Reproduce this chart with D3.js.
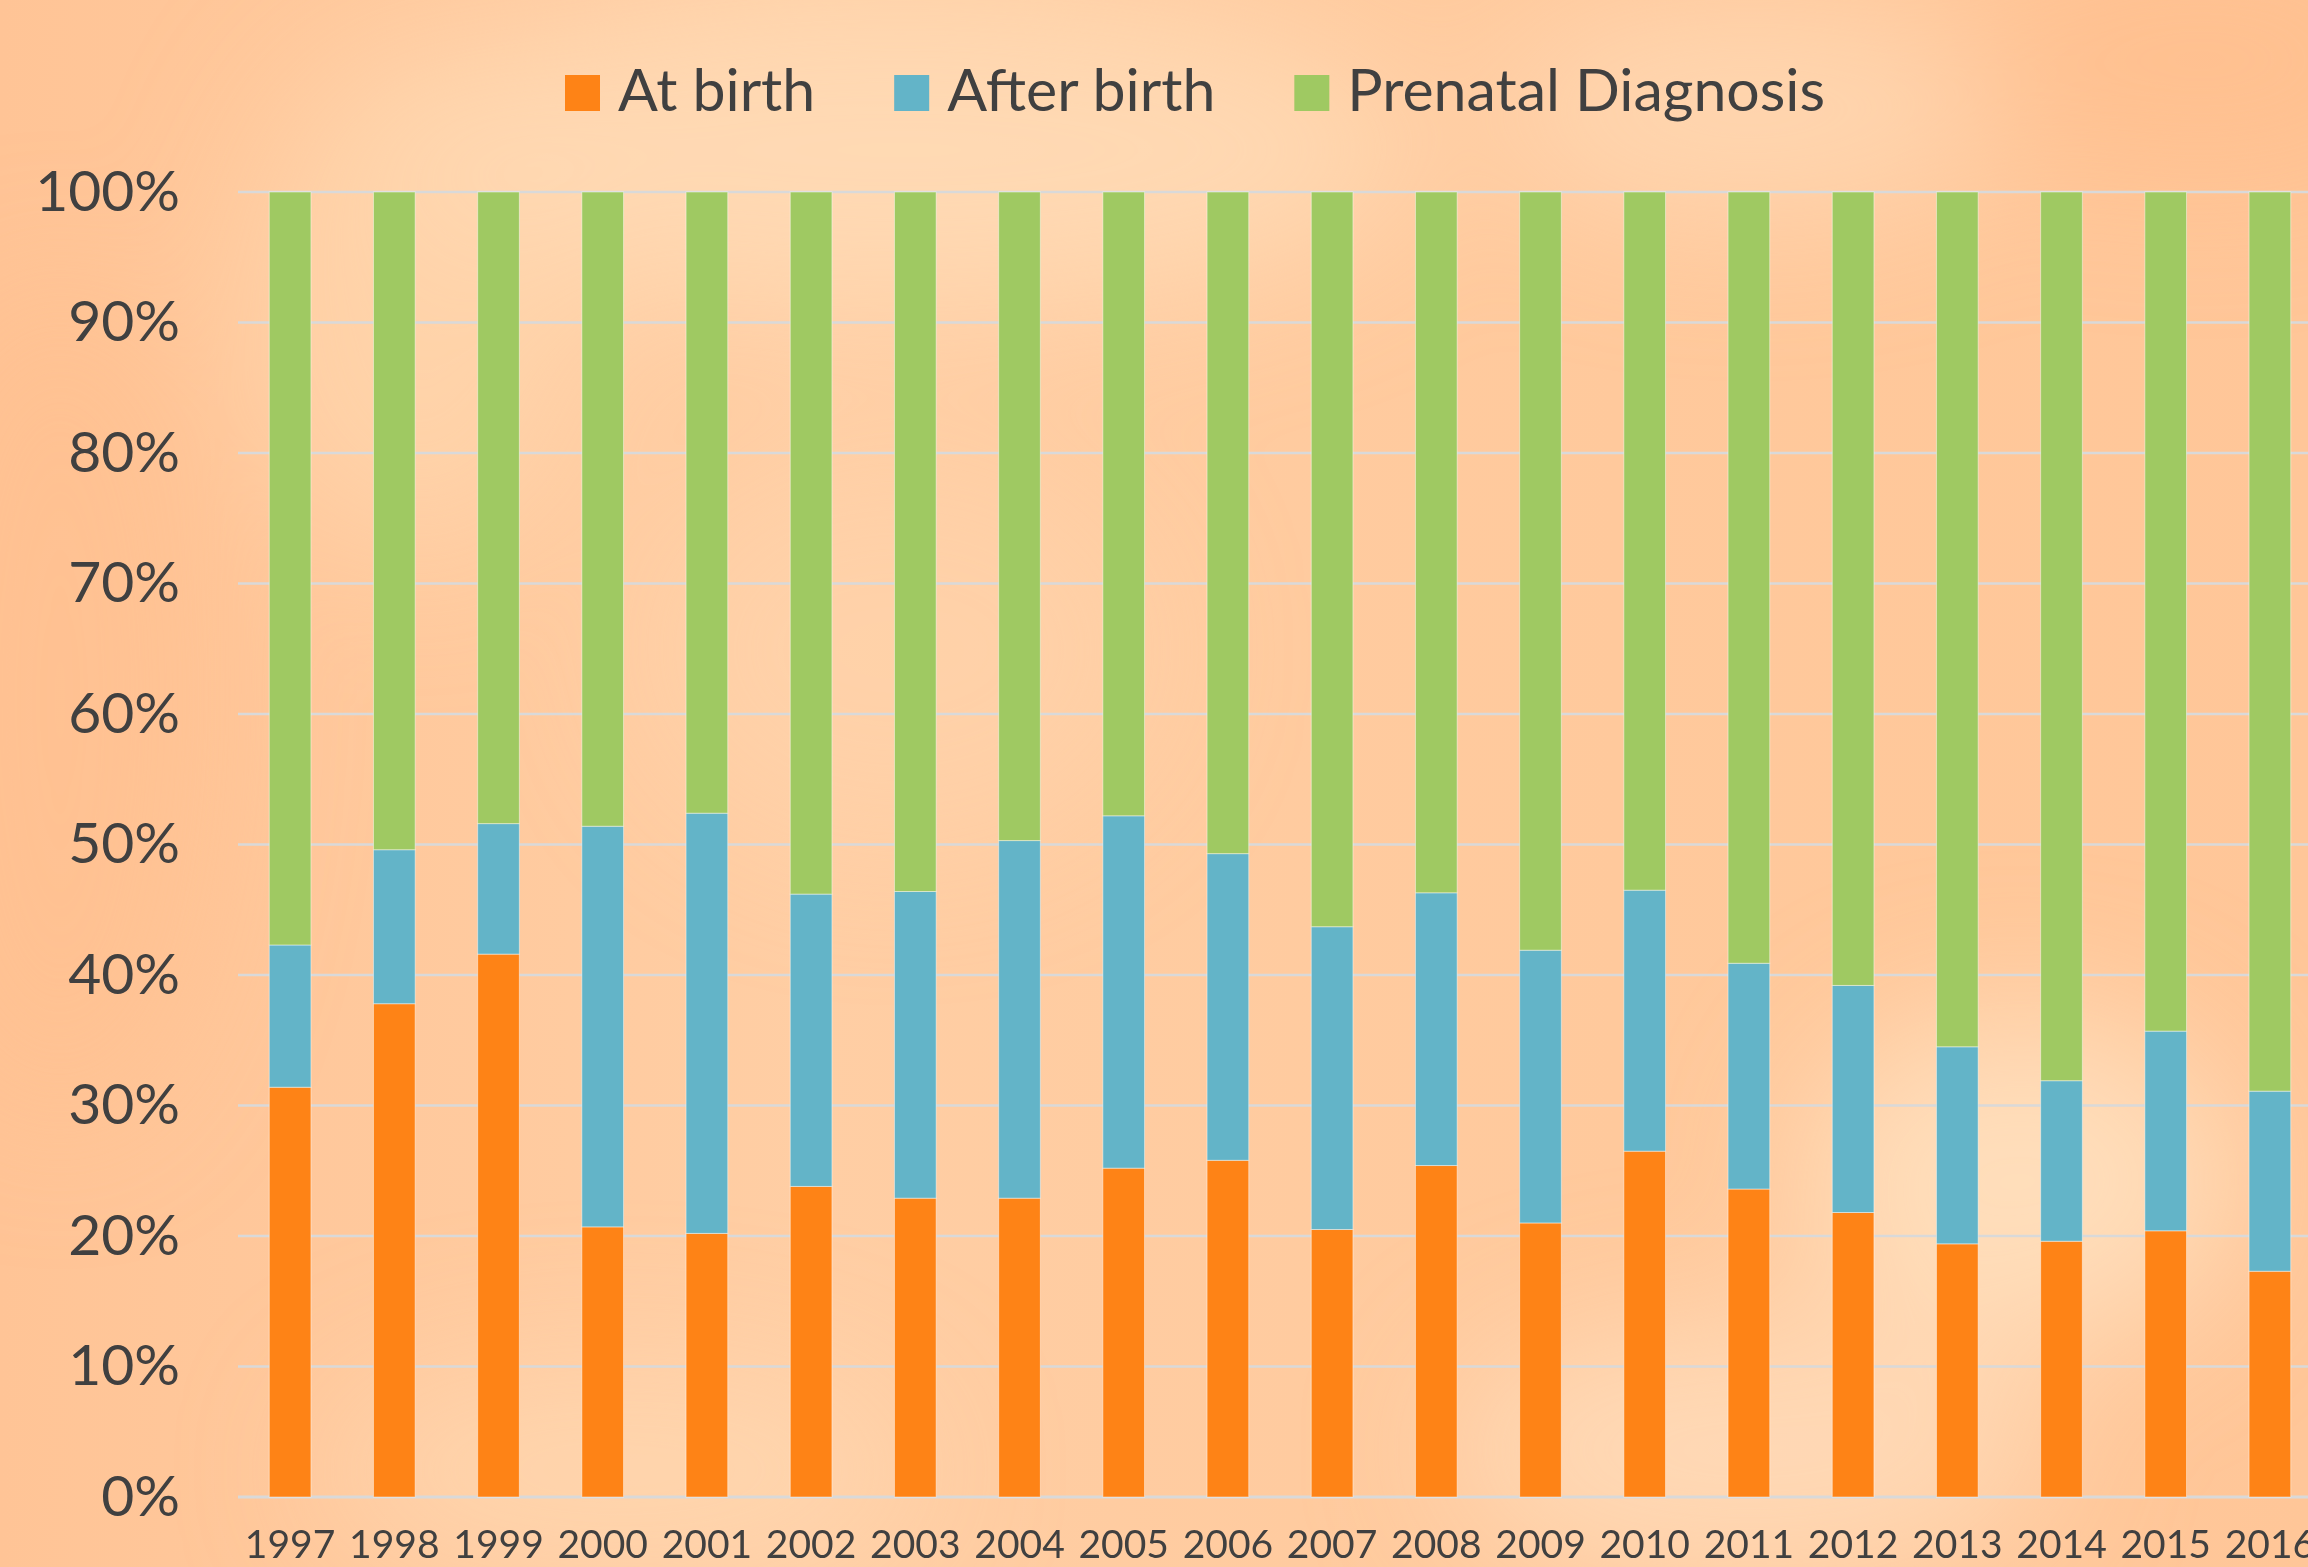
<!DOCTYPE html>
<html>
<head>
<meta charset="utf-8">
<script src="https://cdn.jsdelivr.net/npm/d3@7"></script>
<style>
  html, body { margin: 0; padding: 0; overflow: hidden; background: #ffc99c; }
  #viz { width: 2308px; height: 1567px; }
  text { font-family: Lato, "Open Sans", sans-serif; fill: #404040; }
</style>
</head>
<body>
<div id="viz"></div>
<script>
const years = ["1997", "1998", "1999", "2000", "2001", "2002", "2003", "2004", "2005", "2006",
               "2007", "2008", "2009", "2010", "2011", "2012", "2013", "2014", "2015", "2016"];
const atBirth    = [31.4, 37.8, 41.6, 20.7, 20.2, 23.8, 22.9, 22.9, 25.2, 25.8, 20.5, 25.4, 21.0, 26.5, 23.6, 21.8, 19.4, 19.6, 20.4, 17.3];
const afterBirth = [10.9, 11.8, 10.0, 30.7, 32.2, 22.4, 23.5, 27.4, 27.0, 23.5, 23.2, 20.9, 20.9, 20.0, 17.3, 17.4, 15.1, 12.3, 15.3, 13.8];
const prenatal   = [57.7, 50.4, 48.4, 48.6, 47.6, 53.8, 53.6, 49.7, 47.8, 50.7, 56.3, 53.7, 58.1, 53.5, 59.1, 60.8, 65.5, 68.1, 64.3, 68.9];
const seriesNames = ["At birth", "After birth", "Prenatal Diagnosis"];
const seriesColors = ["#fe8316", "#63b4c8", "#9fc962"];
const yTicks = [0, 10, 20, 30, 40, 50, 60, 70, 80, 90, 100];

const W = 2308, H = 1567;
const plot = {left: 238, right: 2322, top: 192, bottom: 1497};

const data = years.map((yr, i) => ({
  year: yr,
  "At birth": atBirth[i],
  "After birth": afterBirth[i],
  "Prenatal Diagnosis": prenatal[i]
}));

const svg = d3.select("#viz")
  .append("svg")
    .attr("width", W)
    .attr("height", H);

// soft blurred peach background
const defs = svg.append("defs");
defs.append("filter")
    .attr("id", "blur")
    .attr("x", "-50%").attr("y", "-50%")
    .attr("width", "200%").attr("height", "200%")
  .append("feGaussianBlur")
    .attr("stdDeviation", 70);

const bgGrad = defs.append("linearGradient")
    .attr("id", "bgGrad")
    .attr("x1", "0").attr("x2", "1").attr("y1", "0").attr("y2", "0");
bgGrad.append("stop").attr("offset", "0%").attr("stop-color", "#ffc496");
bgGrad.append("stop").attr("offset", "35%").attr("stop-color", "#ffcea4");
bgGrad.append("stop").attr("offset", "70%").attr("stop-color", "#ffc99c");
bgGrad.append("stop").attr("offset", "100%").attr("stop-color", "#ffc698");

svg.append("rect")
  .attr("width", W)
  .attr("height", H)
  .attr("fill", "url(#bgGrad)");

const blobs = [
  {cx: 900, cy: 150, rx: 520, ry: 160, c: "#ffdcb8", o: 0.8},
  {cx: 1750, cy: 110, rx: 260, ry: 110, c: "#ffdcb8", o: 0.7},
  {cx: 2200, cy: 60, rx: 240, ry: 120, c: "#ffbc8a", o: 0.6},
  {cx: 60, cy: 700, rx: 160, ry: 420, c: "#ffbf8f", o: 0.6},
  {cx: 2020, cy: 1180, rx: 220, ry: 170, c: "#ffe4c6", o: 0.75},
  {cx: 1750, cy: 1450, rx: 300, ry: 130, c: "#ffdfc0", o: 0.7},
  {cx: 620, cy: 1470, rx: 300, ry: 110, c: "#ffdab5", o: 0.6},
  {cx: 900, cy: 650, rx: 260, ry: 200, c: "#ffd6ad", o: 0.5},
  {cx: 420, cy: 300, rx: 180, ry: 260, c: "#ffd8b1", o: 0.6}
];
svg.append("g")
    .attr("filter", "url(#blur)")
  .selectAll("ellipse")
  .data(blobs)
  .join("ellipse")
    .attr("cx", d => d.cx)
    .attr("cy", d => d.cy)
    .attr("rx", d => d.rx)
    .attr("ry", d => d.ry)
    .attr("fill", d => d.c)
    .attr("opacity", d => d.o);

const x = d3.scaleBand()
  .domain(years)
  .range([plot.left, plot.right])
  .paddingInner(0.6)
  .paddingOuter(0.3);

const y = d3.scaleLinear()
  .domain([0, 100])
  .range([plot.bottom, plot.top]);

const color = d3.scaleOrdinal()
  .domain(seriesNames)
  .range(seriesColors);

// gridlines
svg.append("g")
  .selectAll("line")
  .data(yTicks)
  .join("line")
    .attr("x1", plot.left)
    .attr("x2", W)
    .attr("y1", d => y(d))
    .attr("y2", d => y(d))
    .attr("stroke", "#d9d9d9")
    .attr("stroke-width", d => d === 0 ? 3 : 2.5);

// y axis labels
const yAxis = svg.append("g")
  .attr("transform", `translate(${plot.left},0)`)
  .call(d3.axisLeft(y).tickValues(yTicks).tickFormat(d => d + "%").tickSize(0).tickPadding(58));
yAxis.select(".domain").remove();
yAxis.selectAll("text")
  .style("font-size", "57px")
  .style("font-family", "Lato, 'Open Sans', sans-serif")
  .attr("fill", "#404040");

// x axis labels
const xAxis = svg.append("g")
  .attr("transform", `translate(0,${plot.bottom})`)
  .call(d3.axisBottom(x).tickSize(0).tickPadding(33));
xAxis.select(".domain").remove();
xAxis.selectAll("text")
  .style("font-size", "39px")
  .style("font-family", "Lato, 'Open Sans', sans-serif")
  .attr("fill", "#404040");

// stacked bars
const stacked = d3.stack().keys(seriesNames)(data);

svg.append("g")
  .selectAll("g")
  .data(stacked)
  .join("g")
    .attr("fill", d => color(d.key))
  .selectAll("rect")
  .data(d => d)
  .join("rect")
    .attr("x", d => x(d.data.year))
    .attr("y", d => y(d[1]))
    .attr("width", x.bandwidth())
    .attr("height", d => y(d[0]) - y(d[1]))
    .attr("stroke", "rgba(255,255,255,0.45)")
    .attr("stroke-width", 1);

// legend
const legend = svg.append("g")
  .attr("class", "legend");

let cursor = 565;
seriesNames.forEach((name, i) => {
  legend.append("rect")
    .attr("x", cursor)
    .attr("y", 75)
    .attr("width", 35)
    .attr("height", 36)
    .attr("fill", seriesColors[i]);

  const t = legend.append("text")
    .attr("x", cursor + 53)
    .attr("y", 111)
    .style("font-size", "59px")
    .attr("fill", "#404040")
    .text(name);

  cursor += 53 + t.node().getComputedTextLength() + 79;
});
</script>
</body>
</html>
